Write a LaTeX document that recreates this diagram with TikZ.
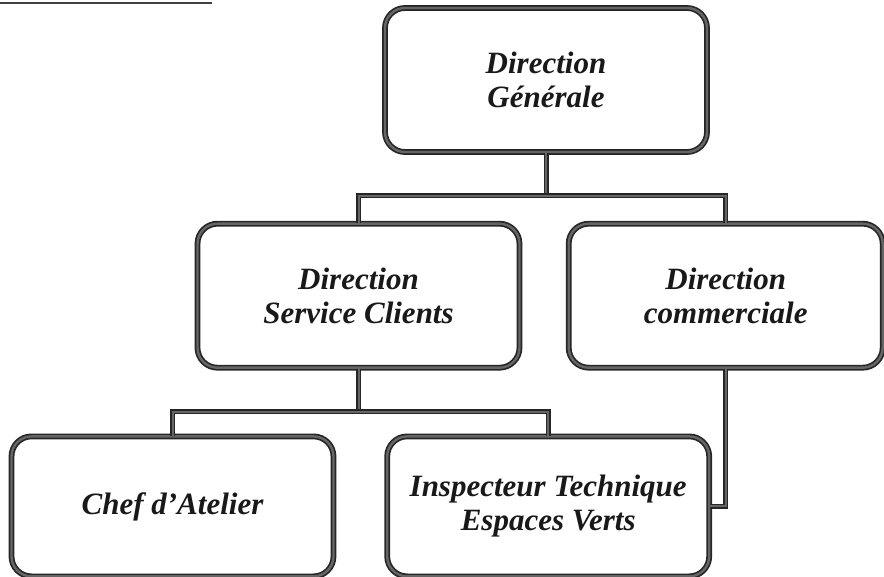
\documentclass[tikz,border=0pt]{standalone}
\usepackage{fontspec}
\setmainfont{Liberation Serif}
\usetikzlibrary{positioning}

\begin{document}
\begin{tikzpicture}[
x=1pt, y=1pt,
orgbox/.style={rectangle, rounded corners=20pt, draw=black!85, double=black!60,
  line width=1.7pt, double distance=2.4pt, fill=white, text=black!90,
  minimum width=322pt, minimum height=144pt, align=center,
  font=\fontsize{31}{34}\selectfont\bfseries\itshape},
lowbox/.style={orgbox, minimum height=140pt},
link/.style={draw=black!85, double=black!60, line width=1.5pt, double distance=2pt}
]
\useasboundingbox (0,0) rectangle (884,-577);

%Title underline (text cut off at the top edge)
\draw[line width=2pt, black!75] (0,-3) -- (212,-3);

%Nodes
\node[orgbox] (dg) at (546,-80) {Direction\\Générale};
\node[orgbox] (dsc) [below=70pt of dg, xshift=-187.5pt] {Direction\\Service Clients};
\node[orgbox, minimum width=314pt] (dc) [right=47.5pt of dsc] {Direction\\commerciale};
\node[lowbox] (ca) [below=67pt of dsc, xshift=-186pt] {Chef d’Atelier};
\node[lowbox] (isv) [right=52pt of ca] {Inspecteur Technique\\Espaces Verts};

\foreach \p/\l/\r in {% parent/left child/right child
      dg/dsc/dc,
      dsc/ca/isv}{
  \draw[link] (\p.south) -- ++(0,-43) coordinate (j);
  \draw[link] (\l.north) |- (j) -| (\r.north);
}
\draw[link] (dc.south) |- (isv.east);
\end{tikzpicture}
\end{document}
